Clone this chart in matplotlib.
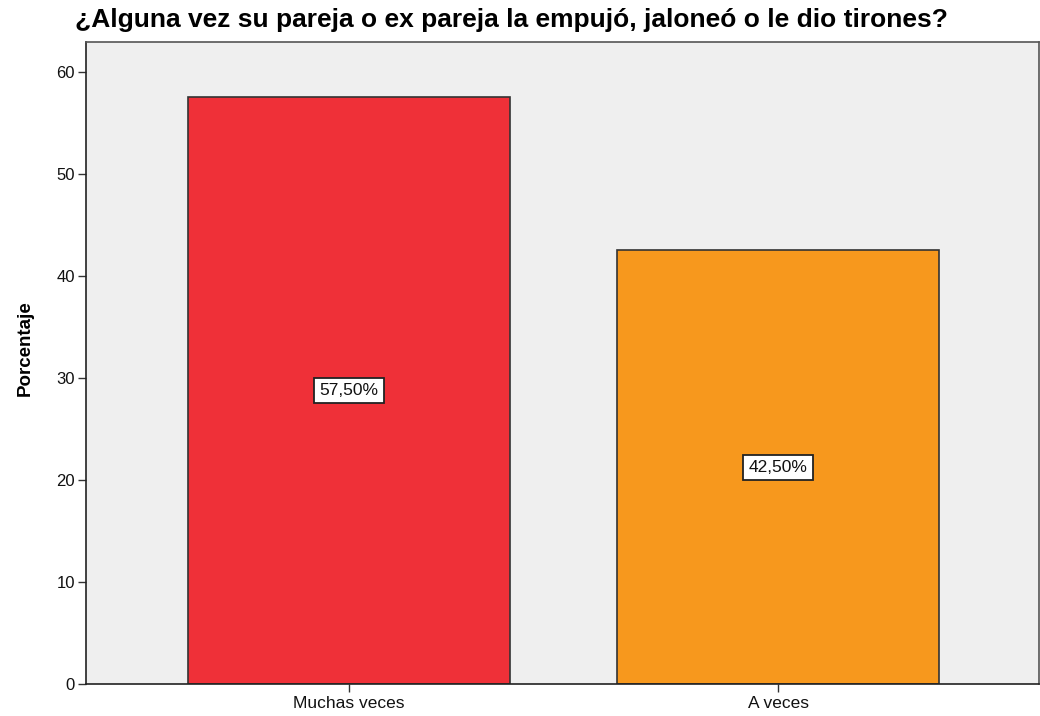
import matplotlib
matplotlib.use("Agg")
import matplotlib.pyplot as plt

categories = ["Muchas veces", "A veces"]
values = [57.5, 42.5]
labels = ["57,50%", "42,50%"]
colors = ["#EF3038", "#F7981D"]
title = "¿Alguna vez su pareja o ex pareja la empujó, jaloneó o le dio tirones?"
yticks = [0, 10, 20, 30, 40, 50, 60]

plt.rcParams['font.family'] = ['Liberation Sans', 'DejaVu Sans']

fig = plt.figure(figsize=(10.4, 7.16), dpi=100)
ax = fig.add_axes([86/1040, 1-684/716, (1039-86)/1040, (684-42)/716])
ax.set_facecolor("#EFEFEF")

x = list(range(len(categories)))
ax.bar(x, values, width=0.75, color=colors, edgecolor="#333333", linewidth=1.2, zorder=2)
for xi, v, lab in zip(x, values, labels):
    ax.text(xi, v/2, lab, ha="center", va="center", fontsize=12.5, color="#111111",
            bbox=dict(boxstyle="square,pad=0.3", fc="white", ec="#222222", lw=1.3), zorder=3)

ax.set_xlim(-0.613, 1.608)
ax.set_ylim(0, 62.94)
ax.set_yticks(yticks)
ax.set_xticks(x)
ax.set_xticklabels(categories, fontsize=12.5, color="#111111")
ax.tick_params(axis='y', labelsize=12, labelcolor="#111111", length=6, width=1, color="#333333", pad=2)
ax.tick_params(axis='x', length=6, width=1, color="#333333", pad=3)
for s in ax.spines.values():
    s.set_color("#555555")
    s.set_linewidth(1.2)
ax.spines['left'].set_color("#222222")
ax.spines['bottom'].set_color("#222222")

fig.text(25/1040, 1-348/716, "Porcentaje", fontsize=13.5, fontweight="bold",
         rotation=90, ha="center", va="center")
fig.text(75/1040, 1-20/716, title, fontsize=19, fontweight="bold", ha="left", va="center")

fig.savefig("out.png", dpi=100)
